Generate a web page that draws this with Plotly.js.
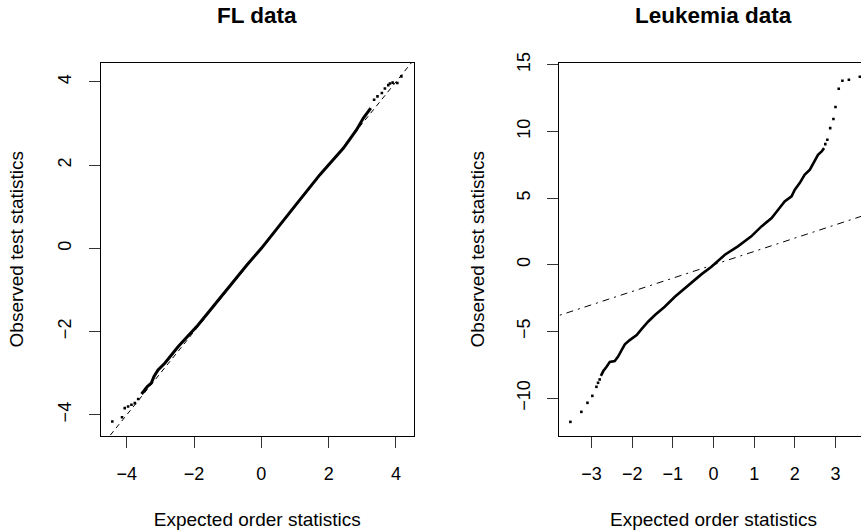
<!DOCTYPE html>
<html><head><meta charset="utf-8">
<script src="https://cdn.plot.ly/plotly-3.0.1.min.js"></script>
<style>html,body{margin:0;padding:0;overflow:hidden;background:#fff;width:861px;height:531px}</style>
</head><body><div id="chart" style="width:880px;height:531px"></div>
<script>
// ---- FL data ----
const flBodyX = [-3.56, -3.39, -3.27, -3.19, -3.07, -2.87, -2.47, -1.88, -0.43, 0.00, 1.00, 1.74, 2.44, 2.83, 3.03, 3.25];
const flBodyY = [-3.50, -3.32, -3.24, -3.08, -2.92, -2.76, -2.36, -1.84, -0.40, 0.00, 1.02, 1.77, 2.41, 2.85, 3.13, 3.37];
const flTailX = [-4.43, -4.14, -4.06, -3.96, -3.86, -3.76, -3.66, 3.35, 3.45, 3.58, 3.67, 3.77, 3.82, 3.90, 4.04, 4.16];
const flTailY = [-4.16, -4.06, -3.84, -3.80, -3.76, -3.72, -3.62, 3.57, 3.65, 3.73, 3.84, 3.92, 3.96, 3.98, 3.97, 4.13];
const flRefX = [-6, 6];
const flRefY = [-6, 6];
const flXTicks = [-4, -2, 0, 2, 4];
const flYTicks = [-4, -2, 0, 2, 4];

// ---- Leukemia data ----
const lkBodyX = [-2.77,-2.71,-2.63,-2.55,-2.43,-2.35,-2.26,-2.18,-2.06,-1.89,-1.77,-1.61,-1.44,-1.20,-0.95,-0.62,-0.30,-0.05,0.28,0.60,0.93,1.18,1.43,1.59,1.75,1.92,2.00,2.12,2.24,2.37,2.49,2.57,2.66,2.72];
const lkBodyY = [-8.33,-7.97,-7.65,-7.28,-7.22,-6.90,-6.40,-5.97,-5.65,-5.27,-4.82,-4.27,-3.77,-3.15,-2.40,-1.52,-0.72,-0.15,0.75,1.38,2.13,2.88,3.50,4.13,4.75,5.13,5.63,6.13,6.75,7.13,7.75,8.25,8.50,8.75];
const lkTailX = [-3.52, -3.25, -3.10, -2.98, -2.88, -2.84, -2.80, 2.75, 2.80, 2.87, 2.95, 3.00, 3.08, 3.17, 3.33, 3.60];
const lkTailY = [-11.78, -11.03, -10.35, -9.83, -9.15, -8.85, -8.60, 9.05, 9.38, 10.25, 10.93, 11.83, 13.20, 13.80, 13.88, 14.10];
const lkRefX = [-6, 6];
const lkRefY = [-6, 6];
const lkXTicks = [-3, -2, -1, 0, 1, 2, 3];
const lkYTicks = [-10, -5, 0, 5, 10, 15];

const FONT = 'Liberation Sans, Arial, Helvetica, sans-serif';
const W = 880, H = 531;
const yDom = [(H - 436) / H, (H - 62.5) / H];

function axisBase(extra) {
  return Object.assign({
    showline: true, linecolor: '#000', linewidth: 1, mirror: true,
    ticks: 'outside', ticklen: 11, tickwidth: 1, tickcolor: '#333',
    showgrid: false, zeroline: false, tickmode: 'array',
    ticklabelstandoff: 10,
    tickfont: {family: FONT, size: 18, color: '#000'},
    autorange: false, fixedrange: true
  }, extra);
}

const dot = {color: '#000', size: 2.6, symbol: 'square', line: {width: 0}};

const traces = [
  {x: flBodyX, y: flBodyY, mode: 'lines', line: {color: '#000', width: 3}, xaxis: 'x', yaxis: 'y', hoverinfo: 'skip'},
  {x: flTailX, y: flTailY, mode: 'markers', marker: dot, xaxis: 'x', yaxis: 'y', hoverinfo: 'skip'},
  {x: flRefX, y: flRefY, mode: 'lines', line: {color: '#000', width: 1, dash: '5px,4px'}, xaxis: 'x', yaxis: 'y', hoverinfo: 'skip'},
  {x: lkBodyX, y: lkBodyY, mode: 'lines', line: {color: '#000', width: 2.6}, xaxis: 'x2', yaxis: 'y2', hoverinfo: 'skip'},
  {x: lkTailX, y: lkTailY, mode: 'markers', marker: dot, xaxis: 'x2', yaxis: 'y2', hoverinfo: 'skip'},
  {x: lkRefX, y: lkRefY, mode: 'lines', line: {color: '#000', width: 1, dash: '2px,5px,7px,5px'}, xaxis: 'x2', yaxis: 'y2', hoverinfo: 'skip'}
];

const layout = {
  width: W, height: H,
  margin: {l: 0, r: 0, t: 0, b: 0},
  paper_bgcolor: '#fff', plot_bgcolor: '#fff',
  showlegend: false,
  font: {family: FONT, color: '#000'},
  xaxis: axisBase({domain: [100.5 / W, 414 / W], range: [-4.78, 4.535], anchor: 'y',
    tickvals: flXTicks, title: {text: 'Expected order statistics', font: {family: FONT, size: 19, color: '#000'}, standoff: 30}}),
  yaxis: axisBase({domain: yDom, range: [-4.509, 4.464], anchor: 'x', tickangle: -90,
    tickvals: flYTicks, title: {text: 'Observed test statistics', font: {family: FONT, size: 19, color: '#000'}, standoff: 26}}),
  xaxis2: axisBase({domain: [559 / W, 868 / W], range: [-3.80, 3.80], anchor: 'y2',
    tickvals: lkXTicks, title: {text: 'Expected order statistics', font: {family: FONT, size: 19, color: '#000'}, standoff: 30}}),
  yaxis2: axisBase({domain: yDom, range: [-12.84, 15.17], anchor: 'x2', tickangle: -90,
    tickvals: lkYTicks, title: {text: 'Observed test statistics', font: {family: FONT, size: 19, color: '#000'}, standoff: 24}}),
  annotations: [
    {text: '<b>FL data</b>', xref: 'paper', yref: 'paper', x: (100.5 + 414) / 2 / W, y: (H - 15.5) / H,
     xanchor: 'center', yanchor: 'middle', showarrow: false, font: {family: FONT, size: 22.5, color: '#000'}},
    {text: '<b>Leukemia data</b>', xref: 'paper', yref: 'paper', x: (559 + 868) / 2 / W, y: (H - 15.5) / H,
     xanchor: 'center', yanchor: 'middle', showarrow: false, font: {family: FONT, size: 22.5, color: '#000'}}
  ]
};

Plotly.newPlot('chart', traces, layout, {staticPlot: true, displayModeBar: false});
</script></body></html>
